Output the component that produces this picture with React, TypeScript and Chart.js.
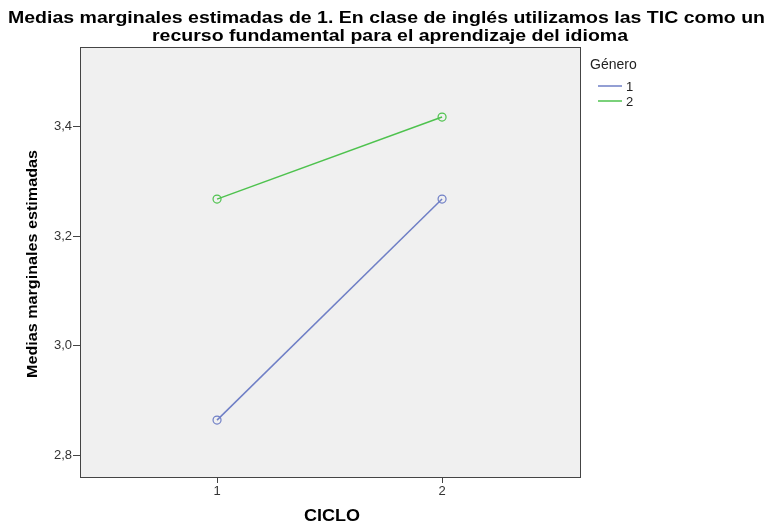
import React, { useEffect, useRef } from "react";
import { Chart, registerables } from "chart.js";

Chart.register(...registerables);

const ciclo = [1, 2];
const genero1 = [2.864, 3.268];
const genero2 = [3.268, 3.418];
const seriesLabels = ["1", "2"];
const yTicks = [2.8, 3.0, 3.2, 3.4];
const xTicks = [1, 2];
const titleLines = [
  "Medias marginales estimadas de 1. En clase de inglés utilizamos las TIC como un",
  "recurso fundamental para el aprendizaje del idioma",
];
const colors = ["#6f7fc6", "#4ec24e"];

const FONT = "'Liberation Sans', Arial, sans-serif";

function fitText(ctx: CanvasRenderingContext2D, text: string, cx: number, cy: number, width: number) {
  const w = ctx.measureText(text).width;
  ctx.save();
  ctx.translate(cx, cy);
  ctx.scale(width / w, 1);
  ctx.textAlign = "center";
  ctx.textBaseline = "middle";
  ctx.fillText(text, 0, 0);
  ctx.restore();
}

export default function App() {
  const ref = useRef<HTMLCanvasElement>(null);
  useEffect(() => {
    document.body.style.margin = "0";
    const canvas = ref.current!;
    const deco = {
      id: "deco",
      beforeDraw(chart: any) {
        const { ctx, chartArea: a } = chart;
        ctx.save();
        ctx.fillStyle = "#f0f0f0";
        ctx.fillRect(a.left, a.top, a.right - a.left, a.bottom - a.top);
        ctx.restore();
      },
      afterDraw(chart: any) {
        const { ctx, chartArea: a } = chart;
        ctx.save();
        ctx.strokeStyle = "#444";
        ctx.lineWidth = 1;
        ctx.strokeRect(Math.round(a.left) + 0.5, Math.round(a.top) + 0.5, Math.round(a.right - a.left), Math.round(a.bottom - a.top));
        // title
        ctx.fillStyle = "#000";
        ctx.font = `bold 17px ${FONT}`;
        fitText(ctx, titleLines[0], 386.5, 18, 757);
        fitText(ctx, titleLines[1], 390, 36, 476);
        // x title
        ctx.font = `bold 16px ${FONT}`;
        fitText(ctx, "CICLO", 332, 517, 56);
        // y title
        ctx.save();
        ctx.translate(33, 264);
        ctx.rotate(-Math.PI / 2);
        ctx.font = `bold 15px ${FONT}`;
        fitText(ctx, "Medias marginales estimadas", 0, 0, 228);
        ctx.restore();
        // legend
        ctx.textAlign = "left";
        ctx.textBaseline = "middle";
        ctx.font = `14px ${FONT}`;
        ctx.fillStyle = "#222";
        ctx.fillText("Género", 590, 65);
        seriesLabels.forEach((l, i) => {
          const y = 86 + i * 15;
          ctx.strokeStyle = colors[i];
          ctx.lineWidth = 1.5;
          ctx.beginPath();
          ctx.moveTo(598, y);
          ctx.lineTo(622, y);
          ctx.stroke();
          ctx.fillStyle = "#222";
          ctx.font = `13px ${FONT}`;
          ctx.fillText(l, 626, y + 1);
        });
        ctx.restore();
      },
    };
    const mk = (vals: number[], i: number) => ({
      label: seriesLabels[i],
      data: ciclo.map((c, j) => ({ x: c, y: vals[j] })),
      borderColor: colors[i],
      backgroundColor: "transparent",
      borderWidth: 1.5,
      pointRadius: 4,
      pointBorderWidth: 1.2,
      pointBorderColor: colors[i],
      pointBackgroundColor: "transparent",
      showLine: true,
      tension: 0,
    });
    const chart = new Chart(canvas, {
      type: "scatter",
      data: { datasets: [mk(genero1, 0), mk(genero2, 1)] },
      plugins: [deco],
      options: {
        animation: false,
        responsive: false,
        layout: { padding: { top: 47, right: 191, left: 0, bottom: 0 } },
        plugins: { legend: { display: false }, title: { display: false }, tooltip: { enabled: false } },
        scales: {
          x: {
            type: "linear",
            min: 0.391,
            max: 2.613,
            afterFit: (s: any) => { s.height = 49; },
            afterBuildTicks: (s: any) => { s.ticks = xTicks.map((v) => ({ value: v })); },
            grid: { display: true, drawOnChartArea: false, drawTicks: true, tickLength: 6, color: "#444" },
            border: { display: false },
            ticks: { color: "#333", font: { family: FONT, size: 13 }, padding: 1, callback: (v: any) => String(v) },
          },
          y: {
            type: "linear",
            min: 2.76,
            max: 3.546,
            afterFit: (s: any) => { s.width = 80; },
            afterBuildTicks: (s: any) => { s.ticks = yTicks.map((v) => ({ value: v })); },
            grid: { display: true, drawOnChartArea: false, drawTicks: true, tickLength: 7, color: "#444" },
            border: { display: false },
            ticks: { color: "#333", font: { family: FONT, size: 13 }, padding: 1, callback: (v: any) => Number(v).toFixed(1).replace(".", ",") },
          },
        },
      },
    });
    return () => chart.destroy();
  }, []);
  return <canvas ref={ref} width={771} height={526} style={{ display: "block" }} />;
}
